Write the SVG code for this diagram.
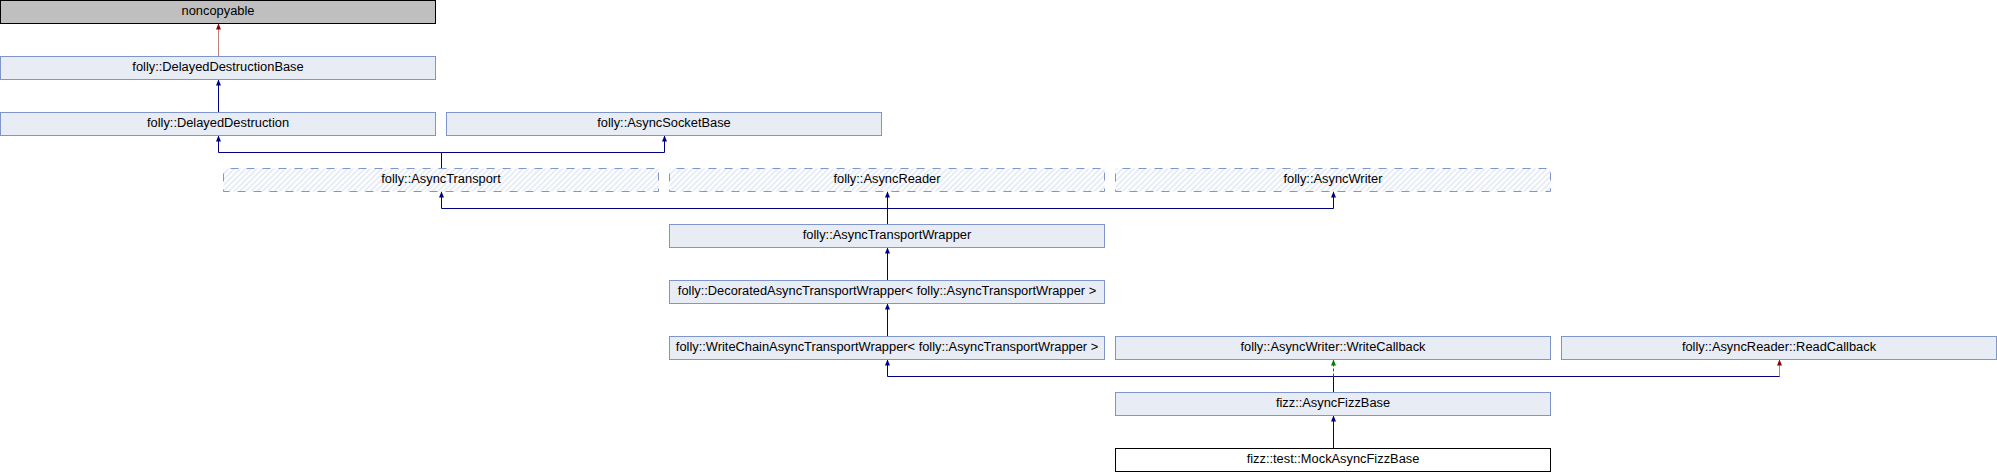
<svg xmlns="http://www.w3.org/2000/svg" width="1997" height="472" viewBox="0 0 1997 472">
<style>
.box{fill:#E8ECF5;stroke:#7F96CC;stroke-width:1}
.hatch{fill:url(#hatch);stroke:#7F96CC;stroke-width:1;stroke-dasharray:8 8;stroke-dashoffset:9}
.gray{fill:#BFBFBF;stroke:#000;stroke-width:1}
.plain{fill:#FFFFFF;stroke:#000;stroke-width:1}
text{font-family:"Liberation Sans",Arial,sans-serif;font-size:12.85px;fill:#000;text-anchor:middle}
.pub{fill:none;stroke:#000080;stroke-width:1}
.pro{fill:none;stroke:#008000;stroke-width:1;stroke-dasharray:3 2}
.pri{fill:none;stroke:#8B0000;stroke-width:1;stroke-dasharray:1 1}
</style>
<defs>
<pattern id="hatch" patternUnits="userSpaceOnUse" width="4" height="4" patternTransform="rotate(45)">
<rect x="0" y="0" width="4" height="4" fill="#FFFFFF"/>
<rect x="0" y="0" width="2" height="4" fill="#E8ECF5"/>
</pattern>
<marker id="aPub" viewBox="0 0 6 5" refX="6" refY="2.5" markerUnits="userSpaceOnUse" markerWidth="6" markerHeight="5" orient="auto"><path d="M0,0 L6,2.5 L0,5 z" fill="#000080"/></marker>
<marker id="aPro" viewBox="0 0 6 5" refX="6" refY="2.5" markerUnits="userSpaceOnUse" markerWidth="6" markerHeight="5" orient="auto"><path d="M0,0 L6,2.5 L0,5 z" fill="#008000"/></marker>
<marker id="aPri" viewBox="0 0 6 5" refX="6" refY="2.5" markerUnits="userSpaceOnUse" markerWidth="6" markerHeight="5" orient="auto"><path d="M0,0 L6,2.5 L0,5 z" fill="#8B0000"/></marker>
</defs>
<rect x="0" y="0" width="1997" height="472" fill="#FFFFFF"/>
<g id="connectors">
<path class="pri" d="M218.5,56.5 V23.5" marker-end="url(#aPri)"/>
<path class="pub" d="M218.5,112.5 V79.5" marker-end="url(#aPub)"/>
<path class="pub" d="M441.5,168.5 V152.5 H218.5 V135.5" marker-end="url(#aPub)"/>
<path class="pub" d="M441.5,152.5 H664.5 V135.5" marker-end="url(#aPub)"/>
<path class="pub" d="M887.5,224.5 V191.5" marker-end="url(#aPub)"/>
<path class="pub" d="M887.5,208.5 H441.5 V191.5" marker-end="url(#aPub)"/>
<path class="pub" d="M887.5,208.5 H1333.5 V191.5" marker-end="url(#aPub)"/>
<path class="pub" d="M887.5,280.5 V247.5" marker-end="url(#aPub)"/>
<path class="pub" d="M887.5,336.5 V303.5" marker-end="url(#aPub)"/>
<path class="pub" d="M1333.5,392.5 V376.5 H887.5 V359.5" marker-end="url(#aPub)"/>
<path class="pub" d="M1333.5,376.5 H1779.5"/>
<path class="pro" d="M1333.5,376.5 V359.5" marker-end="url(#aPro)"/>
<path class="pri" d="M1779.5,376.5 V359.5" marker-end="url(#aPri)"/>
<path class="pub" d="M1333.5,448.5 V415.5" marker-end="url(#aPub)"/>
</g>
<g id="noncopyable"><rect class="gray" x="0.5" y="0.5" width="435" height="23"/><text x="218" y="14.5">noncopyable</text></g>
<g id="DelayedDestructionBase"><rect class="box" x="0.5" y="56.5" width="435" height="23"/><text x="218" y="70.5">folly::DelayedDestructionBase</text></g>
<g id="DelayedDestruction"><rect class="box" x="0.5" y="112.5" width="435" height="23"/><text x="218" y="126.5">folly::DelayedDestruction</text></g>
<g id="AsyncSocketBase"><rect class="box" x="446.5" y="112.5" width="435" height="23"/><text x="664" y="126.5">folly::AsyncSocketBase</text></g>
<g id="AsyncTransport"><rect class="hatch" x="223.5" y="168.5" width="435" height="23"/><text x="441" y="182.5">folly::AsyncTransport</text></g>
<g id="AsyncReader"><rect class="hatch" x="669.5" y="168.5" width="435" height="23"/><text x="887" y="182.5">folly::AsyncReader</text></g>
<g id="AsyncWriter"><rect class="hatch" x="1115.5" y="168.5" width="435" height="23"/><text x="1333" y="182.5">folly::AsyncWriter</text></g>
<g id="AsyncTransportWrapper"><rect class="box" x="669.5" y="224.5" width="435" height="23"/><text x="887" y="238.5">folly::AsyncTransportWrapper</text></g>
<g id="DecoratedAsyncTransportWrapper"><rect class="box" x="669.5" y="280.5" width="435" height="23"/><text x="887" y="294.5">folly::DecoratedAsyncTransportWrapper&lt; folly::AsyncTransportWrapper &gt;</text></g>
<g id="WriteChainAsyncTransportWrapper"><rect class="box" x="669.5" y="336.5" width="435" height="23"/><text x="887" y="350.5">folly::WriteChainAsyncTransportWrapper&lt; folly::AsyncTransportWrapper &gt;</text></g>
<g id="WriteCallback"><rect class="box" x="1115.5" y="336.5" width="435" height="23"/><text x="1333" y="350.5">folly::AsyncWriter::WriteCallback</text></g>
<g id="ReadCallback"><rect class="box" x="1561.5" y="336.5" width="435" height="23"/><text x="1779" y="350.5">folly::AsyncReader::ReadCallback</text></g>
<g id="AsyncFizzBase"><rect class="box" x="1115.5" y="392.5" width="435" height="23"/><text x="1333" y="406.5">fizz::AsyncFizzBase</text></g>
<g id="MockAsyncFizzBase"><rect class="plain" x="1115.5" y="448.5" width="435" height="23"/><text x="1333" y="462.5">fizz::test::MockAsyncFizzBase</text></g>
</svg>
